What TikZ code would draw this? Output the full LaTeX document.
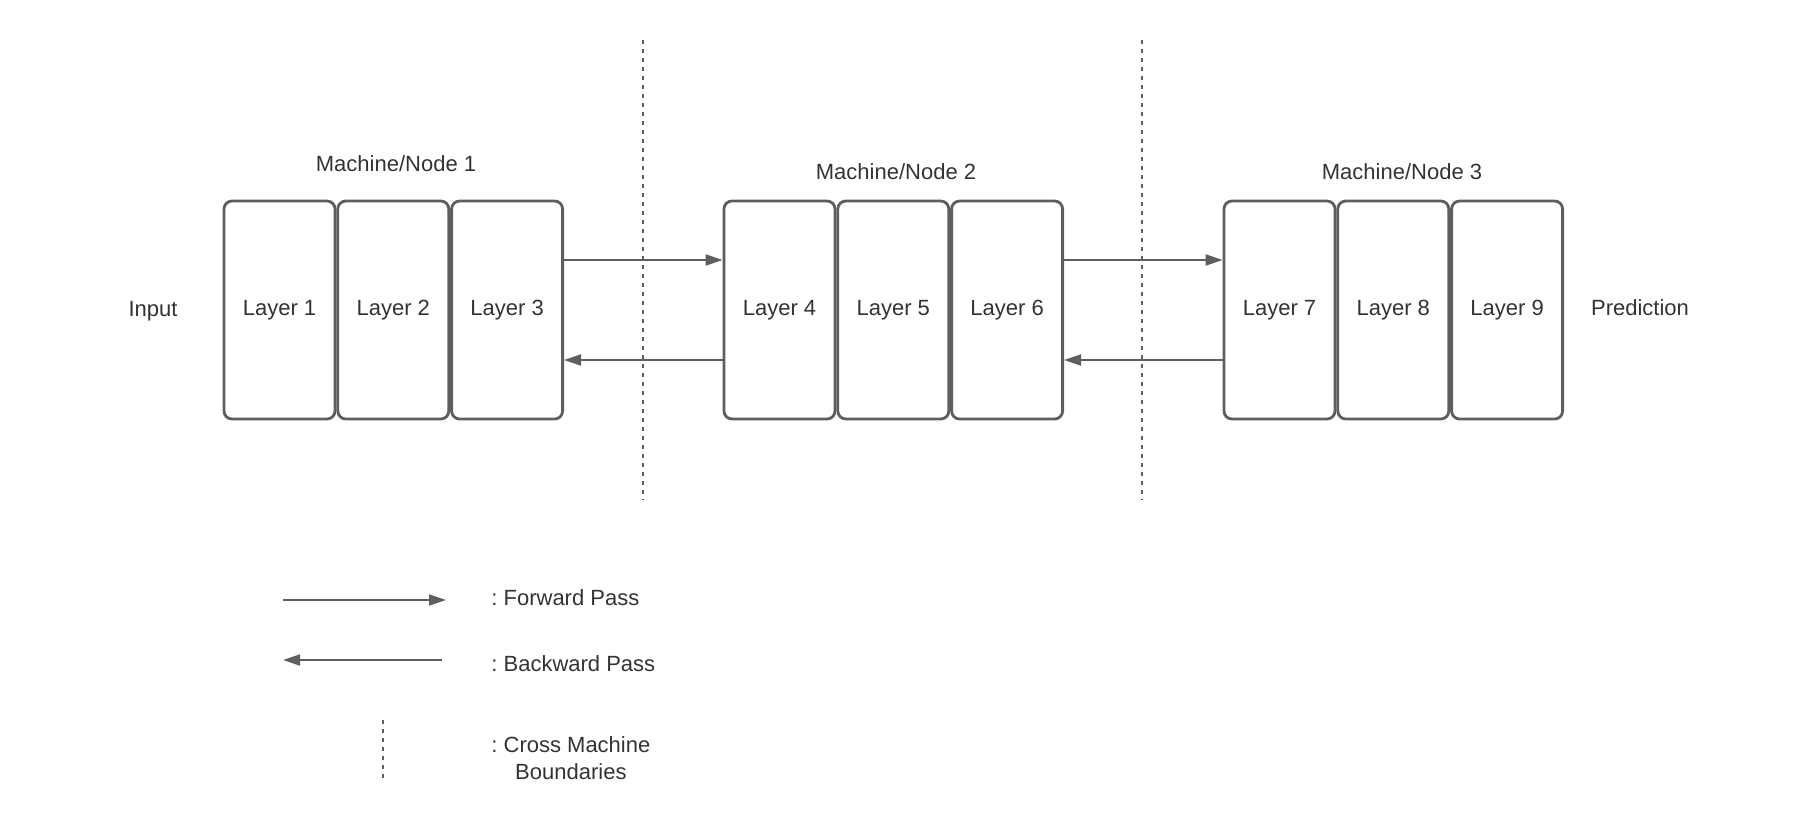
\documentclass[tikz,border=0pt]{standalone}
\usepackage{fontspec}
\setmainfont{Liberation Sans}
\usepackage{xcolor}
\usetikzlibrary{arrows.meta, positioning}
\definecolor{boxline}{HTML}{5E5E5E}
\definecolor{labeltext}{HTML}{333333}
\frenchspacing

\tikzset{
    layerbox/.style={rectangle, rounded corners=4pt, draw=boxline, line width=1.4pt, fill=white,
        minimum width=55.5pt, minimum height=109pt, inner sep=0pt, text=labeltext},
    passarrow/.style={draw=boxline, line width=1pt, -{Triangle[length=8.5pt, width=5.5pt]}},
    boundary/.style={draw=boxline, line width=1pt, dash pattern=on 2pt off 2.5pt},
    plainlabel/.style={text=labeltext, inner sep=0pt}
}

\begin{document}
\begin{tikzpicture}[x=0.5pt, y=-0.5pt, font=\fontsize{11}{13.5}\selectfont]
    \useasboundingbox (0,0) rectangle (1793,832);

    % Machine/Node 1
    \node[layerbox] (l1) at (279.5,310) {Layer 1};
    \node[layerbox, right=0pt of l1] (l2) {Layer 2};
    \node[layerbox, right=0pt of l2] (l3) {Layer 3};
    % Machine/Node 2
    \node[layerbox] (l4) at (779.5,310) {Layer 4};
    \node[layerbox, right=0pt of l4] (l5) {Layer 5};
    \node[layerbox, right=0pt of l5] (l6) {Layer 6};
    % Machine/Node 3
    \node[layerbox] (l7) at (1279.5,310) {Layer 7};
    \node[layerbox, right=0pt of l7] (l8) {Layer 8};
    \node[layerbox, right=0pt of l8] (l9) {Layer 9};

    % Machine titles
    \node[plainlabel] (m1) at (396,164) {Machine/Node 1};
    \node[plainlabel] (m2) at (896,172) {Machine/Node 2};
    \node[plainlabel] (m3) at (1402,172) {Machine/Node 3};

    % Input and output
    \node[plainlabel] (input) at (153,311) {Input};
    \node[plainlabel] (pred) at (1640,308) {Prediction};

    % Forward and backward passes between machines
    \draw[passarrow] ([yshift=25pt]l3.east) -- ([yshift=25pt]l4.west);
    \draw[passarrow] ([yshift=-25pt]l4.west) -- ([yshift=-25pt]l3.east);
    \draw[passarrow] ([yshift=25pt]l6.east) -- ([yshift=25pt]l7.west);
    \draw[passarrow] ([yshift=-25pt]l7.west) -- ([yshift=-25pt]l6.east);

    % Cross machine boundaries
    \draw[boundary] (643,40) -- (643,500);
    \draw[boundary] (1142,40) -- (1142,500);

    % Legend
    \coordinate (fwdA) at (283,600);
    \coordinate (fwdB) at (446,600);
    \coordinate (bwdA) at (442,660);
    \coordinate (bwdB) at (283,660);
    \coordinate (bndA) at (383,720);
    \coordinate (bndB) at (383,781);
    \draw[passarrow] (fwdA) -- (fwdB);
    \draw[passarrow] (bwdA) -- (bwdB);
    \draw[boundary] (bndA) -- (bndB);
    \node[plainlabel, anchor=west] (fwdtext) at (491,598) {: Forward Pass};
    \node[plainlabel, anchor=west] (bwdtext) at (491,664) {: Backward Pass};
    \node[plainlabel, anchor=west, align=center] (bndtext) at (491,758) {: Cross Machine\\Boundaries};
\end{tikzpicture}
\end{document}
